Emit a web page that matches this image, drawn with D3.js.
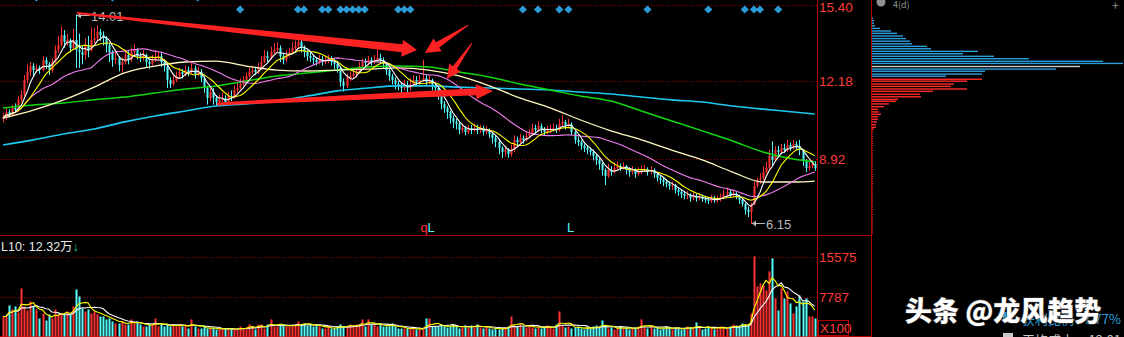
<!DOCTYPE html>
<html>
<head>
<meta charset="utf-8">
<script src="https://cdn.jsdelivr.net/npm/d3@7"></script>
<style>
  body { margin: 0; background: #000; overflow: hidden; }
  svg { display: block; font-family: "Liberation Sans", Arial, sans-serif; }
</style>
</head>
<body>
<script>
// daily closes (price), one per bar
const closes = [
  10.63,10.89,10.76,11.06,10.97,11.40,11.61,12.24,12.58,12.83,
  12.66,12.75,12.66,13.09,12.92,12.66,13.00,13.51,13.72,14.14,
  13.85,13.93,13.59,13.93,13.51,13.42,13.30,13.72,13.51,13.93,
  14.01,14.27,14.14,14.01,13.72,13.42,13.09,13.17,12.87,13.00,
  13.30,13.09,13.42,13.51,13.25,13.17,13.30,13.00,12.92,13.09,
  13.17,13.25,13.00,12.83,12.24,12.07,12.24,12.41,12.58,12.49,
  12.66,12.58,12.75,12.49,12.58,12.32,11.90,11.48,11.73,11.48,
  11.31,11.40,11.48,11.31,11.56,11.52,11.82,11.90,12.07,12.24,
  12.41,12.58,12.66,12.58,12.75,13.00,13.25,13.17,13.42,13.51,
  13.59,13.25,13.09,13.30,13.42,13.59,13.68,13.85,13.59,13.42,
  13.25,13.17,13.09,13.00,13.09,13.00,13.09,13.13,13.00,12.92,
  12.75,12.16,11.99,12.32,12.41,12.49,12.58,12.83,13.00,12.96,
  13.09,13.00,13.09,13.17,13.09,12.92,12.66,12.41,12.24,12.07,
  11.99,11.90,12.03,11.90,12.07,12.24,12.16,12.24,12.32,12.16,
  12.24,11.99,11.90,11.61,11.23,11.06,10.89,10.63,10.47,10.38,
  10.13,10.21,10.04,10.21,10.13,10.21,10.13,10.21,10.04,10.13,
  9.96,9.79,9.62,9.37,9.20,9.28,9.11,9.28,9.71,9.62,
  9.79,9.71,9.87,9.96,10.21,10.13,10.30,10.13,10.04,10.13,
  10.17,10.21,10.13,10.38,10.47,10.30,10.38,10.04,9.71,9.62,
  9.45,9.37,9.28,9.20,9.03,8.86,8.69,8.44,8.18,8.44,
  8.35,8.52,8.61,8.52,8.61,8.44,8.35,8.44,8.27,8.35,
  8.44,8.48,8.35,8.44,8.27,8.10,8.02,7.93,7.85,7.76,
  7.80,7.59,7.51,7.42,7.34,7.38,7.25,7.34,7.25,7.30,
  7.21,7.17,7.13,7.25,7.17,7.21,7.30,7.42,7.51,7.38,
  7.42,7.34,7.17,7.00,6.75,6.66,6.96,7.76,8.02,8.10,
  8.35,8.52,9.03,8.86,9.28,9.20,9.37,9.28,9.49,9.37,
  9.54,9.45,9.28,8.86,8.52,8.61,8.69,8.52
];
const highs = [
  10.85,11.05,11.00,11.20,11.25,11.55,11.80,12.45,12.90,13.00,
  12.95,12.90,12.85,13.25,13.20,13.00,13.15,13.70,14.10,14.50,
  14.35,14.20,14.00,14.40,15.00,14.20,13.70,14.00,14.10,14.45,
  14.45,14.55,14.40,14.30,14.10,13.80,13.50,13.40,13.25,13.20,
  13.50,13.45,13.60,13.75,13.60,13.40,13.50,13.35,13.15,13.30,
  13.50,13.45,13.40,13.10,12.90,12.35,12.45,12.60,12.75,12.70,
  12.85,12.80,12.95,12.85,12.80,12.70,12.40,12.00,11.95,11.90,
  11.60,11.60,11.70,11.60,11.75,11.80,12.00,12.10,12.30,12.40,
  12.55,12.75,12.85,12.80,12.95,13.25,13.50,13.45,13.65,13.80,
  13.85,13.70,13.40,13.50,13.60,13.85,13.90,14.10,13.95,13.70,
  13.50,13.40,13.30,13.20,13.30,13.25,13.25,13.30,13.25,13.15,
  13.00,12.80,12.30,12.50,12.60,12.70,12.75,13.00,13.15,13.15,
  13.25,13.20,13.30,13.60,13.35,13.20,13.00,12.75,12.50,12.35,
  12.20,12.15,12.25,12.20,12.30,12.45,12.40,12.45,13.10,12.50,
  12.45,12.30,12.10,11.95,11.70,11.35,11.15,10.95,10.75,10.60,
  10.45,10.40,10.30,10.35,10.35,10.40,10.35,10.35,10.30,10.30,
  10.20,10.05,9.90,9.70,9.45,9.45,9.35,9.50,9.90,9.85,
  9.95,9.90,10.05,10.15,10.40,10.35,10.50,10.40,10.25,10.30,
  10.35,10.40,10.35,10.60,10.75,10.55,10.60,10.45,10.10,9.85,
  9.70,9.55,9.45,9.40,9.30,9.10,8.95,8.75,8.50,8.70,
  8.60,8.75,8.80,8.70,8.75,8.65,8.55,8.60,8.50,8.55,
  8.60,8.65,8.55,8.60,8.50,8.35,8.20,8.10,8.05,7.95,
  7.95,7.85,7.70,7.60,7.55,7.55,7.45,7.50,7.45,7.45,
  7.40,7.35,7.30,7.40,7.35,7.35,7.45,7.60,7.70,7.60,
  7.60,7.50,7.40,7.25,7.05,6.90,7.05,7.95,8.10,8.30,
  8.60,8.80,9.30,9.65,9.45,9.45,9.55,9.55,9.70,9.60,
  9.70,9.65,9.71,9.30,8.90,8.80,8.85,8.80
];
const lows = [
  10.45,10.55,10.65,10.70,10.85,10.90,11.30,11.55,12.10,12.40,
  12.40,12.55,12.50,12.60,12.70,12.45,12.55,12.95,13.40,13.65,
  13.60,13.70,13.40,13.50,12.75,12.75,12.90,13.10,13.20,13.45,
  13.80,13.90,13.90,13.70,13.40,13.00,12.80,12.90,12.60,12.55,
  12.90,12.90,13.00,13.30,13.10,13.00,13.05,12.80,12.70,12.85,
  13.00,13.05,12.80,12.60,11.90,11.90,12.00,12.15,12.30,12.30,
  12.40,12.40,12.50,12.30,12.40,12.15,11.70,11.20,11.35,11.20,
  11.15,11.20,11.30,11.15,11.25,11.35,11.45,11.70,11.85,12.00,
  12.15,12.35,12.50,12.45,12.50,12.70,12.95,13.00,13.10,13.35,
  13.40,13.00,12.90,13.00,13.20,13.35,13.50,13.55,13.40,13.20,
  13.05,13.00,12.90,12.85,12.90,12.85,12.90,12.95,12.85,12.70,
  12.55,11.95,11.75,11.90,12.20,12.30,12.35,12.50,12.75,12.80,
  12.85,12.85,12.90,13.00,12.95,12.75,12.45,12.20,12.05,11.85,
  11.80,11.70,11.80,11.70,11.80,12.00,12.00,12.05,12.15,12.00,
  12.05,11.80,11.70,11.40,11.00,10.85,10.60,10.40,10.20,10.15,
  9.95,10.00,9.90,9.95,9.95,10.05,9.95,10.00,9.90,9.95,
  9.80,9.55,9.40,9.10,8.95,9.00,8.95,9.00,9.20,9.45,
  9.55,9.55,9.65,9.80,9.90,10.00,10.05,10.00,9.90,9.95,
  10.00,10.05,10.00,10.05,10.30,10.15,10.20,9.90,9.55,9.45,
  9.30,9.20,9.10,9.05,8.85,8.65,8.45,8.20,7.80,8.10,
  8.20,8.30,8.45,8.40,8.45,8.25,8.15,8.25,8.10,8.20,
  8.25,8.35,8.20,8.25,8.10,7.95,7.85,7.75,7.70,7.60,
  7.60,7.45,7.35,7.25,7.20,7.20,7.10,7.15,7.10,7.15,
  7.10,7.05,7.00,7.05,7.05,7.05,7.10,7.20,7.35,7.25,
  7.30,7.20,7.00,6.90,6.55,6.45,6.15,6.95,7.70,7.85,
  8.00,8.30,8.45,8.60,8.80,9.05,9.10,9.15,9.20,9.25,
  9.30,9.30,9.05,8.60,8.35,8.40,8.50,8.40
];
// volume, x100 shares
const volume = [
  3900,3900,6050,5270,5850,4680,9360,5850,5070,6830,
  5850,5270,3510,4490,3120,4290,3510,5270,4290,4490,
  4490,4880,4290,5850,9170,7800,5460,4880,5270,4490,
  4880,4290,3900,3900,3320,3510,2930,2540,2540,2930,
  2340,2340,3320,2540,2930,2340,1950,1950,2340,2340,
  3510,1950,2340,1950,2340,1950,2340,1950,2340,1950,
  2340,1560,3320,1950,1560,1560,1950,1560,1560,1560,
  1370,1560,1370,1560,1370,1560,1370,1370,1950,1560,
  1760,2340,1950,1370,2340,2340,1560,2340,3320,1950,
  1950,2340,2340,1950,1950,1950,2340,2930,2340,2540,
  2150,2340,1950,2340,1950,1560,1560,1950,1560,1560,
  1950,2340,1950,1950,2340,1950,2340,2340,3320,1950,
  3320,2340,2340,1950,2540,1950,1950,1950,2540,1950,
  1560,1560,1560,1560,1560,1560,1370,1370,1370,3510,
  3510,1950,1950,1950,2340,1950,1760,1950,2340,1950,
  1560,1760,2150,1760,2150,1950,2340,1760,1560,1950,
  1560,1370,1560,1370,1560,1760,1950,3900,2150,1950,
  2340,1950,1760,2150,1760,1560,1950,1560,1760,2150,
  1950,1560,2340,4880,2150,1760,1950,1560,1760,1950,
  1560,1370,1760,1560,1950,2150,1760,3120,1950,1560,
  1760,1370,1560,1950,1560,1760,1370,1560,1760,1950,
  3320,1760,1560,1950,1560,1760,1370,1560,1950,1760,
  1370,1560,1760,1370,1560,1950,1760,1560,2730,1760,
  1370,1560,1950,1760,1370,1560,1950,1760,1560,1950,
  2340,2150,1950,2540,2340,2150,4490,15600,9750,10340,
  9950,8970,12680,15210,7410,5070,9360,7410,8780,6440,
  4490,5850,8000,6830,7410,3900,3900,3510
];

// long moving averages, sampled at these bar indices
const maIdx = [0,10,20,30,40,50,60,70,80,90,100,110,120,130,140,150,160,170,180,190,200,210,220,230,240,250,260,267];
const ma60 = [10.63,10.97,11.40,11.94,12.54,12.83,13.00,13.04,12.83,12.66,12.62,12.66,12.70,12.75,12.66,12.41,11.99,11.48,11.06,10.55,10.09,9.71,9.28,8.86,8.35,7.93,7.93,7.97];
const ma120 = [11.06,11.18,11.27,11.40,11.52,11.69,11.86,11.99,12.20,12.41,12.54,12.66,12.79,12.83,12.79,12.58,12.37,12.07,11.82,11.56,11.35,10.93,10.51,10.09,9.66,9.20,8.90,8.78];
const ma250 = [9.49,9.71,9.96,10.17,10.47,10.72,10.93,11.14,11.23,11.35,11.56,11.78,11.90,11.99,11.99,11.94,11.90,11.86,11.82,11.73,11.65,11.52,11.40,11.31,11.14,11.01,10.89,10.80];

// chip (cost) distribution
const chipPrice = [14.85,14.75,14.64,14.53,14.42,14.31,14.21,14.10,13.99,13.88,13.77,13.66,13.56,13.45,13.35,13.24,13.14,13.03,12.94,12.81,12.70,12.61,12.49,12.40,12.27,12.19,12.07,11.97,11.86,11.76,11.64,11.53,11.42,11.34,11.23,11.11,11.00,10.89,10.79,10.69,10.58,10.47,10.35,10.24,10.16];
const chipVol = [1,2,2,3,8,19,25,31,34,38,40,55,59,106,91,122,157,231,251,208,184,113,110,74,110,95,82,79,95,61,48,49,26,24,17,12,6,7,9,6,6,5,4,4,2];
const chipTail = [10.06,9.96,9.86,9.76,9.66,9.56,9.46,9.36,9.26,9.16,9.06,8.96,8.86,8.76,8.66,8.56,8.46,8.36,8.26,8.16,8.06,7.96,7.86,7.76,7.66,7.56,7.46,7.36,7.26,7.16,7.06,6.96,6.86,6.76,6.66,6.56,6.46,6.36,6.26,6.16,6.06,5.96,5.86,5.76];
const avgCost = 12.81;
const chipSplit = 12.33;

const priceTicks = [15.40, 12.18, 8.92];
const volTicks = [15575, 7787];
const signalIdx = [78,97,99,105,107,111,113,115,117,119,130,132,134,171,176,183,186,212,232,244,247,249,255];
const signalTopIdx = [11,36,64];

const W = 1124, H = 337;
const N = closes.length;

const x = d3.scaleLinear().domain([0, N - 1]).range([3, 814.7]);
const y = d3.scaleLinear().domain([5.69, 15.62]).range([235, 0]);
const yv = d3.scaleLinear().domain([0, 15575]).range([336.5, 256.5]);
const xc = d3.scaleLinear().domain([0, 250]).range([872, 1122]);

const RED = "#ff3232", CYAN = "#54fcfc", GRID = "#a00000", AXIS = "#ff3c3c";

const bars = closes.map((c, i) => ({
  i, c, o: i ? closes[i - 1] : c, h: highs[i], l: lows[i], v: volume[i]
}));
bars.forEach(d => d.up = d.c >= d.o);

function movingAvg(arr, n) {
  return arr.map((_, i) => d3.mean(arr.slice(Math.max(0, i - n + 1), i + 1)));
}

const svg = d3.select("body").append("svg")
  .attr("width", W).attr("height", H)
  .style("background", "#000");

svg.append("clipPath").attr("id", "pclip")
  .append("rect").attr("x", 0).attr("y", 0).attr("width", 817).attr("height", 235);

// grid
const grid = svg.append("g").attr("stroke", GRID).attr("stroke-dasharray", "1,2");
grid.selectAll("line.pg").data(priceTicks).join("line")
  .attr("x1", 0).attr("x2", 817)
  .attr("y1", d => Math.round(y(d)) + 0.5).attr("y2", d => Math.round(y(d)) + 0.5);
grid.selectAll("line.vg").data(volTicks).join("line")
  .attr("x1", 0).attr("x2", 817)
  .attr("y1", d => Math.round(yv(d)) + 0.5).attr("y2", d => Math.round(yv(d)) + 0.5);

// frame
const frame = svg.append("g").attr("stroke", "#b00000").attr("stroke-width", 1);
frame.append("line").attr("x1", 0).attr("x2", 871).attr("y1", 235.5).attr("y2", 235.5);
frame.append("line").attr("x1", 0).attr("x2", 871).attr("y1", 336.5).attr("y2", 336.5);
frame.append("line").attr("x1", 817.5).attr("x2", 817.5).attr("y1", 0).attr("y2", H);
frame.append("line").attr("x1", 871.5).attr("x2", 871.5).attr("y1", 0).attr("y2", H);

// price panel
const pricePanel = svg.append("g").attr("clip-path", "url(#pclip)");

// signals row
const sig = pricePanel.append("g").attr("fill", "#2b9bd6");
sig.selectAll("rect.s").data(signalIdx).join("rect")
  .attr("x", -2.9).attr("y", -2.9).attr("width", 5.8).attr("height", 5.8)
  .attr("transform", d => `translate(${x(d)},9.5) rotate(45)`);
sig.selectAll("rect.t").data(signalTopIdx).join("rect")
  .attr("class", "t")
  .attr("x", -2.9).attr("y", -2.9).attr("width", 5.8).attr("height", 5.8)
  .attr("transform", d => `translate(${x(d)},-2.5) rotate(45)`);

// candles
const candle = pricePanel.append("g").selectAll("g").data(bars).join("g")
  .attr("fill", d => d.up ? RED : CYAN)
  .attr("stroke", d => d.up ? RED : CYAN);
candle.append("line")
  .attr("x1", d => Math.round(x(d.i)) + 0.5).attr("x2", d => Math.round(x(d.i)) + 0.5)
  .attr("y1", d => y(d.h)).attr("y2", d => y(d.l));
candle.append("rect").attr("stroke", "none")
  .attr("x", d => Math.round(x(d.i)) - 0.5).attr("width", 2)
  .attr("y", d => Math.min(y(d.o), y(d.c)))
  .attr("height", d => Math.max(1, Math.abs(y(d.o) - y(d.c))));

// moving averages
const line = d3.line().x((d, i) => x(i)).y(d => y(d));
const lineS = d3.line().x(d => x(d[0])).y(d => y(d[1])).curve(d3.curveMonotoneX);
const longMAs = [
  { v: ma250, c: "#1ec8f0", w: 1.6 },
  { v: ma120, c: "#10d810", w: 1.5 },
  { v: ma60, c: "#fff8c0", w: 1.3 }
];
pricePanel.selectAll("path.lma").data(longMAs).join("path")
  .attr("fill", "none").attr("stroke", d => d.c).attr("stroke-width", d => d.w)
  .attr("d", d => lineS(maIdx.map((k, j) => [k, d.v[j]])));
const shortMAs = [
  { v: movingAvg(closes, 30), c: "#f07ef0" },
  { v: movingAvg(closes, 10), c: "#ffff00" },
  { v: movingAvg(closes, 5), c: "#ffffff" }
];
pricePanel.selectAll("path.sma").data(shortMAs).join("path")
  .attr("fill", "none").attr("stroke", d => d.c).attr("stroke-width", 1.1)
  .attr("d", d => line(d.v));

// high / low labels
const hiBar = bars[d3.maxIndex(highs)], loBar = bars[d3.minIndex(lows)];
const ann = pricePanel.append("g").attr("fill", "#b8b8b8").attr("stroke", "#b8b8b8")
  .style("font-size", "13px");
function markLabel(bx, by, txt) {
  ann.append("line").attr("x1", bx + 1).attr("x2", bx + 14).attr("y1", by).attr("y2", by);
  ann.append("path").attr("stroke", "none")
    .attr("d", `M${bx + 1},${by}L${bx + 5},${by - 3}L${bx + 5},${by + 3}Z`);
  ann.append("text").attr("stroke", "none").attr("x", bx + 15).attr("y", by + 5).text(txt);
}
markLabel(Math.round(x(hiBar.i)), Math.round(y(hiBar.h)) + 0.5, "14.01");
markLabel(Math.round(x(loBar.i)), Math.round(y(loBar.l)) - 0.5, d3.format(".2f")(loBar.l));

// q / L markers
const mk = pricePanel.append("g").style("font-size", "13px");
mk.append("text").attr("x", x(137.3)).attr("y", 232).attr("fill", RED).text("q");
mk.append("text").attr("x", x(137.3) + 7).attr("y", 232).attr("fill", CYAN).text("L");
mk.append("text").attr("x", x(185.5)).attr("y", 232).attr("fill", CYAN).text("L");

// hand-drawn red arrows (data coordinates: bar index, price)
const annotArrows = [
  { a: [24.3, 15.07], b: [136.2, 13.51], w0: 2, w1: 8, hl: 15, hw: 17 },
  { a: [70.4, 11.23], b: [161.2, 11.78], w0: 3, w1: 7, hl: 17, hw: 15 },
  { a: [153.0, 14.56], b: [138.8, 13.38], w0: 1, w1: 6, hl: 15, hw: 15 },
  { a: [154.3, 13.80], b: [146.0, 12.28], w0: 1, w1: 5, hl: 14, hw: 14 }
];
function arrowPath(d) {
  const x0 = x(d.a[0]), y0 = y(d.a[1]), x1 = x(d.b[0]), y1 = y(d.b[1]);
  const L = Math.hypot(x1 - x0, y1 - y0), ux = (x1 - x0) / L, uy = (y1 - y0) / L;
  const nx = -uy, ny = ux, bx = x1 - ux * d.hl, by = y1 - uy * d.hl;
  const p = [
    [x0 + nx * d.w0 / 2, y0 + ny * d.w0 / 2],
    [bx + nx * d.w1 / 2, by + ny * d.w1 / 2],
    [bx + nx * d.hw / 2, by + ny * d.hw / 2],
    [x1, y1],
    [bx - nx * d.hw / 2, by - ny * d.hw / 2],
    [bx - nx * d.w1 / 2, by - ny * d.w1 / 2],
    [x0 - nx * d.w0 / 2, y0 - ny * d.w0 / 2]
  ];
  return "M" + p.map(q => q.join(",")).join("L") + "Z";
}
pricePanel.selectAll("path.arrow").data(annotArrows).join("path")
  .attr("fill", "#ff2222").attr("d", arrowPath);

// volume panel
const vol = svg.append("g");
vol.selectAll("rect").data(bars).join("rect")
  .attr("fill", d => d.up ? RED : CYAN)
  .attr("x", d => Math.round(x(d.i)) - 0.5).attr("width", 2)
  .attr("y", d => yv(d.v)).attr("height", d => yv(0) - yv(d.v));
const vline = d3.line().x((d, i) => x(i)).y(d => yv(d));
vol.selectAll("path").data([
  { v: movingAvg(volume, 10), c: "#ffffff" },
  { v: movingAvg(volume, 5), c: "#ffff00" }
]).join("path")
  .attr("fill", "none").attr("stroke", d => d.c).attr("stroke-width", 1.1)
  .attr("d", d => vline(d.v));

const vlab = svg.append("text").attr("x", 1).attr("y", 251)
  .style("font-size", "12.5px")
  .style("font-family", "'Liberation Sans','Noto Sans CJK SC',sans-serif");
vlab.append("tspan").attr("fill", "#e8e8e8").text("L10: 12.32万");
vlab.append("tspan").attr("fill", "#20c090").style("font-weight", "bold").text("↓");

// axis labels
const ax = svg.append("g").attr("fill", AXIS).style("font-size", "13.5px");
ax.selectAll("text.p").data(priceTicks).join("text")
  .attr("x", 819).attr("y", d => Math.max(11.5, y(d) + 5)).text(d => d3.format(".2f")(d));
ax.selectAll("text.v").data(volTicks).join("text")
  .attr("class", "v")
  .attr("x", 819).attr("y", d => yv(d) + 5).text(d => d);
ax.append("rect").attr("x", 818.5).attr("y", 320.5).attr("width", 30).attr("height", 15)
  .attr("fill", "none").attr("stroke", "#b00000");
ax.append("text").attr("x", 820).attr("y", 333).text("X100");

// chip distribution
const chips = chipPrice.map((p, k) => ({ p, v: chipVol[k] }));
const avgIdx = d3.minIndex(chipPrice, p => Math.abs(p - avgCost));
svg.append("g").selectAll("rect").data(chips).join("rect")
  .attr("x", xc(0)).attr("y", d => y(d.p) - 0.7)
  .attr("width", d => xc(d.v) - xc(0)).attr("height", 1.4)
  .attr("fill", (d, k) => k === avgIdx ? "#c8c8c8" : d.p > chipSplit ? "#2b9fdc" : "#ff2a2a");
svg.append("g").selectAll("rect").data(chipTail).join("rect")
  .attr("x", xc(0)).attr("y", d => y(d) - 0.5).attr("width", 1).attr("height", 1)
  .attr("fill", "#ff2a2a");

// right panel texts
const rp = svg.append("g").style("font-family", "'Noto Sans CJK SC',sans-serif").style("font-size", "13px");
rp.append("circle").attr("cx", 881).attr("cy", 2).attr("r", 4.5).attr("fill", "#909090");
rp.append("text").attr("x", 893).attr("y", 8).attr("fill", "#909090").style("font-size", "9px").text("4(d)");
rp.append("text").attr("x", 1112).attr("y", 10).attr("fill", "#909090").style("font-size", "12px").text("+");
rp.append("rect").attr("x", 1003).attr("y", 312).attr("width", 10).attr("height", 10).attr("fill", "#2b9fdc");
rp.append("text").attr("x", 1022).attr("y", 324).attr("fill", "#2b9fdc").text("获利比例");
rp.append("text").attr("x", 1121).attr("y", 324).attr("text-anchor", "end").attr("fill", "#2b9fdc").text("7.77%");
rp.append("rect").attr("x", 1003).attr("y", 333).attr("width", 10).attr("height", 10).attr("fill", "#c8c8c8");
rp.append("text").attr("x", 1022).attr("y", 345).attr("fill", "#c8c8c8").text("平均成本");
rp.append("text").attr("x", 1121).attr("y", 345).attr("text-anchor", "end").attr("fill", "#c8c8c8").text(avgCost.toFixed(2));

// watermark
svg.append("text").attr("x", 905).attr("y", 321)
  .attr("fill", "#ffffff").attr("stroke", "#3a3a3a").attr("stroke-width", 1.2)
  .attr("paint-order", "stroke")
  .style("font-family", "'Noto Sans CJK SC',sans-serif").style("font-weight", 900)
  .style("font-size", "27px")
  .text("头条 @龙风趋势");
</script>
</body>
</html>
